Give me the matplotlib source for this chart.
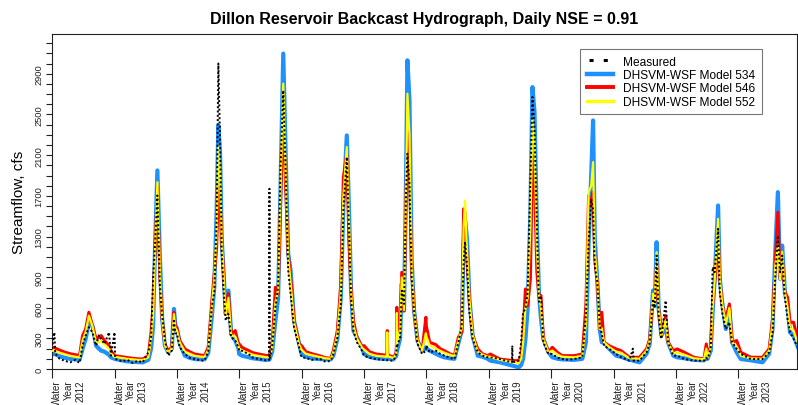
import matplotlib
matplotlib.use("Agg")
import matplotlib.pyplot as plt
import matplotlib.transforms as mtransforms
import pandas as pd

plt.rcParams['font.family'] = ['Liberation Sans', 'DejaVu Sans']

# ---------------- data ----------------
dates = [
    # WY2012
    "2011-10-01", "2011-10-15", "2011-10-20", "2011-11-15", "2011-12-15", "2012-01-15",
    "2012-02-15", "2012-03-10", "2012-03-28", "2012-04-15", "2012-05-04", "2012-05-25",
    "2012-06-15", "2012-07-01", "2012-07-15", "2012-08-03", "2012-08-30", "2012-09-10",
    # WY2013
    "2012-10-01", "2012-10-05", "2012-11-15", "2012-12-15", "2013-01-15", "2013-02-15",
    "2013-03-15", "2013-04-17", "2013-05-03", "2013-05-15", "2013-05-27", "2013-06-09",
    "2013-06-24", "2013-07-07", "2013-07-23", "2013-08-12", "2013-09-01", "2013-09-14",
    "2013-09-22",
    # WY2014
    "2013-10-01", "2013-10-18", "2013-11-17", "2013-12-15", "2014-01-13", "2014-02-15",
    "2014-03-12", "2014-04-03", "2014-04-23", "2014-05-08", "2014-05-22", "2014-06-01",
    "2014-06-11", "2014-06-21", "2014-07-01", "2014-07-14", "2014-07-30", "2014-08-15",
    "2014-09-08", "2014-09-27",
    # WY2015
    "2014-10-01", "2014-10-17", "2014-11-25", "2014-12-20", "2015-01-23", "2015-02-20",
    "2015-03-13", "2015-03-26", "2015-03-27", "2015-03-28", "2015-04-12", "2015-05-01",
    "2015-05-17", "2015-05-31", "2015-06-16", "2015-06-30", "2015-07-15", "2015-07-29",
    "2015-08-18", "2015-09-17",
    # WY2016
    "2015-10-01", "2015-10-26", "2015-12-01", "2016-01-15", "2016-02-20", "2016-03-20",
    "2016-04-04", "2016-04-28", "2016-05-18", "2016-06-02", "2016-06-22", "2016-07-05",
    "2016-07-17", "2016-07-31", "2016-08-20", "2016-09-19",
    # WY2017
    "2016-10-01", "2016-11-01", "2016-12-10", "2017-01-15", "2017-02-11", "2017-02-14",
    "2017-02-17", "2017-03-22", "2017-04-08", "2017-04-11", "2017-04-14", "2017-04-30",
    "2017-05-10", "2017-05-23", "2017-06-04", "2017-06-12", "2017-06-24", "2017-07-07",
    "2017-07-21", "2017-08-10", "2017-09-06", "2017-09-28",
    # WY2018
    "2017-10-01", "2017-10-20", "2017-11-25", "2017-12-20", "2018-01-14", "2018-02-15",
    "2018-03-14", "2018-04-06", "2018-04-26", "2018-05-07", "2018-05-15", "2018-05-27",
    "2018-06-10", "2018-06-29", "2018-07-29", "2018-08-26", "2018-09-25",
    # WY2019
    "2018-10-10", "2018-12-05", "2019-01-10", "2019-02-14", "2019-02-16", "2019-02-18",
    "2019-03-26", "2019-04-09", "2019-04-20", "2019-05-04", "2019-05-17", "2019-06-02",
    "2019-06-14", "2019-06-26", "2019-07-10", "2019-07-22", "2019-08-03", "2019-08-17",
    "2019-09-16",
    # WY2020
    "2019-10-08", "2019-11-10", "2019-12-05", "2020-01-10", "2020-02-14", "2020-04-01",
    "2020-04-22", "2020-05-08", "2020-05-23", "2020-06-03", "2020-06-13", "2020-06-28",
    "2020-07-12", "2020-07-24", "2020-08-06", "2020-09-05",
    # WY2021
    "2020-10-16", "2020-11-14", "2021-01-02", "2021-01-22", "2021-01-26", "2021-03-02",
    "2021-04-12", "2021-05-01", "2021-05-20", "2021-05-30", "2021-06-10", "2021-06-22",
    "2021-07-08", "2021-08-02", "2021-08-16", "2021-09-16",
    # WY2022
    "2021-10-08", "2021-11-20", "2022-01-14", "2022-03-14", "2022-03-28", "2022-04-04",
    "2022-04-23", "2022-05-04", "2022-05-16", "2022-06-05", "2022-06-15", "2022-06-29",
    "2022-07-20", "2022-08-10", "2022-08-26", "2022-09-22",
    # WY2023
    "2022-10-16", "2022-12-14", "2023-02-20", "2023-03-31", "2023-04-20", "2023-05-05",
    "2023-05-21", "2023-06-03", "2023-06-15", "2023-07-01", "2023-07-17", "2023-07-31",
    "2023-08-21", "2023-09-30",
]

measured = [
    200, 360, 150, 100, 80, 65, 90, 60, 230, 328, 410, 360, 229, 330, 295, 245, 360, 131,
    360, 100, 75, 90, 60, 80, 65, 164, 295, 885, 1245, 1704, 819, 524, 279, 131, 180, 491, 350,
    350, 213, 147, 110, 98, 85, 82, 180, 606, 750, 1459, 3000, 2245, 1131, 803, 475, 541, 311, 279, 213,
    180, 180, 147, 110, 98, 90, 82, 90, 1770, 100, 213, 606, 803, 1983, 2737, 1950, 967, 737, 410, 213,
    115, 110, 90, 100, 70, 82, 147, 311, 639, 1557, 2081, 1360, 705, 377, 262, 180,
    131, 110, 98, 90, 85, 90, 85, 82, 150, 246, 230, 311, 770, 639, 1720, 2114, 1818, 901, 573, 246, 147, 180,
    229, 164, 180, 150, 131, 110, 98, 262, 426, 1049, 1250, 1016, 557, 295, 164, 131, 115,
    115, 98, 80, 66, 229, 66, 82, 262, 557, 590, 754, 1868, 2671, 2360, 1409, 660, 720, 262, 147,
    147, 110, 98, 90, 98, 115, 524, 1245, 1671, 1573, 1016, 852, 426, 350, 229, 197,
    147, 115, 82, 200, 82, 82, 164, 262, 688, 600, 1114, 524, 295, 672, 262, 131,
    131, 98, 82, 82, 110, 100, 197, 1000, 950, 1376, 754, 557, 393, 459, 262, 197,
    147, 98, 98, 164, 360, 885, 1311, 950, 1114, 700, 491, 360, 295, 164,
]

model_534 = [
    150, 147, 145, 125, 110, 100, 95, 90, 200, 295, 459, 426, 229, 200, 180, 170, 140, 115,
    100, 98, 85, 75, 70, 68, 65, 90, 200, 426, 1245, 1950, 1082, 491, 229, 164, 197, 590, 430,
    400, 250, 131, 110, 98, 95, 95, 160, 500, 800, 1557, 2393, 2114, 1262, 967, 541, 770, 344, 279, 200,
    147, 131, 115, 105, 98, 92, 90, 92, 95, 98, 170, 475, 700, 1786, 3097, 2114, 1131, 967, 475, 246,
    147, 120, 105, 98, 95, 95, 130, 300, 700, 1600, 2294, 1557, 770, 377, 311, 213,
    147, 120, 105, 100, 98, 150, 100, 95, 130, 200, 190, 300, 836, 573, 1884, 3032, 2638, 1065, 573, 279, 180, 213,
    200, 180, 150, 130, 115, 105, 100, 250, 380, 1212, 1475, 1278, 688, 328, 131, 120, 100,
    82, 66, 50, 33, 33, 33, 16, 40, 98, 295, 600, 1540, 2769, 2523, 1409, 754, 492, 295, 164,
    115, 100, 95, 92, 90, 100, 262, 1245, 1900, 2441, 1278, 852, 393, 262, 262, 200,
    131, 120, 90, 85, 80, 66, 150, 250, 770, 620, 1245, 590, 328, 426, 262, 131,
    115, 105, 90, 85, 100, 100, 180, 557, 885, 1606, 885, 655, 393, 590, 262, 164,
    98, 85, 66, 150, 400, 1114, 1737, 885, 1212, 754, 623, 360, 328, 150,
]

model_546 = [
    213, 210, 205, 185, 165, 150, 140, 131, 328, 393, 557, 426, 295, 310, 328, 279, 230, 180,
    131, 130, 120, 112, 105, 100, 98, 131, 360, 623, 1200, 1780, 900, 491, 240, 180, 210, 557, 420,
    400, 279, 197, 170, 147, 138, 131, 213, 650, 934, 1196, 1786, 1688, 1262, 967, 541, 740, 344, 377, 246,
    246, 213, 180, 160, 147, 138, 131, 135, 138, 140, 246, 803, 737, 1622, 2540, 1786, 1131, 900, 475, 246,
    230, 170, 150, 130, 110, 105, 180, 377, 836, 1884, 2114, 1229, 770, 475, 311, 213,
    230, 170, 147, 140, 135, 377, 140, 115, 160, 606, 300, 442, 950, 573, 1700, 2540, 2000, 967, 573, 279, 180, 508,
    420, 262, 240, 200, 180, 150, 131, 311, 360, 1573, 1540, 1081, 688, 328, 197, 147, 131,
    147, 98, 90, 82, 82, 82, 82, 131, 360, 786, 623, 885, 2100, 1868, 950, 721, 721, 295, 164,
    213, 160, 131, 131, 131, 147, 623, 1704, 1600, 1737, 1081, 852, 393, 557, 262, 229,
    197, 180, 115, 115, 115, 115, 197, 295, 721, 655, 1049, 590, 328, 524, 262, 180,
    197, 164, 115, 98, 246, 120, 229, 623, 850, 1343, 885, 623, 491, 639, 262, 279,
    164, 115, 115, 197, 491, 1016, 1540, 900, 1100, 754, 705, 459, 459, 180,
]

model_552 = [
    180, 178, 175, 160, 145, 130, 120, 115, 280, 360, 524, 420, 260, 260, 280, 240, 200, 150,
    120, 118, 108, 100, 95, 90, 88, 115, 300, 520, 1200, 1835, 950, 480, 230, 165, 200, 540, 400,
    380, 260, 170, 150, 130, 122, 118, 190, 600, 880, 1350, 2180, 1900, 1262, 950, 530, 700, 330, 320, 225,
    200, 180, 155, 140, 128, 120, 115, 118, 120, 122, 210, 650, 780, 1750, 2802, 1900, 1100, 850, 460, 240,
    190, 150, 135, 118, 105, 100, 160, 340, 760, 1700, 2180, 1450, 760, 420, 300, 210,
    190, 150, 130, 125, 120, 360, 125, 108, 150, 550, 260, 380, 900, 580, 1800, 2704, 2300, 1000, 573, 279, 180, 350,
    320, 230, 200, 180, 160, 140, 125, 280, 400, 1400, 1655, 1150, 688, 328, 170, 140, 120,
    120, 90, 80, 70, 70, 70, 60, 100, 250, 600, 700, 1400, 2458, 2200, 1200, 730, 600, 295, 164,
    180, 140, 120, 118, 115, 130, 450, 1737, 1800, 2032, 1150, 852, 393, 400, 262, 215,
    170, 160, 105, 105, 105, 100, 180, 280, 740, 640, 1147, 590, 328, 480, 262, 150,
    160, 140, 105, 95, 200, 110, 210, 600, 870, 1475, 885, 640, 440, 600, 262, 220,
    130, 105, 100, 180, 450, 1000, 1212, 880, 1150, 754, 600, 400, 380, 165,
]

water_years = list(range(2012, 2024))
y_tick_values = list(range(0, 3201, 100))
y_tick_labelled = [0, 300, 600, 900, 1300, 1700, 2100, 2500, 2900]

# ---------------- figure ----------------
W, H = 798, 406
fig = plt.figure(figsize=(W / 100, H / 100), dpi=100)
L, R, T, B = 52, 797, 35, 370
ax = fig.add_axes([L / W, (H - B) / H, (R - L) / W, (B - T) / H])

t = pd.to_datetime(dates)
ax.plot(t, model_534, color='#1E90FF', lw=3.0, solid_joinstyle='round', zorder=2,
        label='DHSVM-WSF Model 534')
ax.plot(t, model_546, color='#FF0000', lw=2.2, solid_joinstyle='round', zorder=3,
        label='DHSVM-WSF Model 546')
ax.plot(t, model_552, color='#FFFF00', lw=1.6, solid_joinstyle='round', zorder=4,
        label='DHSVM-WSF Model 552')
ax.plot(t, measured, color='black', lw=1.4, ls=(0, (1.0, 1.2)), zorder=5,
        label='Measured')

ax.set_xlim(pd.Timestamp('2011-10-01'), pd.Timestamp('2023-09-10'))
ax.set_ylim(0, 3290)

# y axis
ax.set_yticks(y_tick_values)
ax.set_yticklabels([str(v) if v in y_tick_labelled else '' for v in y_tick_values],
                   rotation=90, va='center', fontsize=6.7, color='#222222')
ax.tick_params(axis='y', direction='out', length=4.3, width=0.8, pad=2, colors='#222222',
               labelcolor='#222222')
ax.set_ylabel('Streamflow, cfs', fontsize=11, labelpad=6)

# x axis: ticks at start of each water year
xt = [pd.Timestamp(f'{wy - 1}-10-01') for wy in water_years]
ax.set_xticks(xt)
ax.set_xticklabels([f'Water\nYear\n{wy}' for wy in water_years], rotation=90,
                   ha='left', va='top', multialignment='right', fontsize=7,
                   linespacing=1.22)
offset = mtransforms.ScaledTranslation(-8.0 / 100, 0, fig.dpi_scale_trans)
for lab in ax.get_xticklabels():
    lab.set_transform(lab.get_transform() + offset)
ax.tick_params(axis='x', direction='out', length=6.5, width=0.8, pad=1, colors='#222222')

for s in ax.spines.values():
    s.set_linewidth(0.8)
    s.set_color('#222222')

ax.set_title('Dillon Reservoir Backcast Hydrograph, Daily NSE = 0.91', fontsize=11.5,
             fontweight='bold', pad=8)

# legend
handles, labels = ax.get_legend_handles_labels()
order = [3, 0, 1, 2]
leg = ax.legend([handles[i] for i in order], [labels[i] for i in order],
                loc='upper left', bbox_to_anchor=((580 - L) / (R - L), (B - 50) / (B - T)),
                borderaxespad=0, fontsize=8.6, frameon=True, fancybox=False,
                edgecolor='#777777', framealpha=1, labelspacing=0.12, handlelength=2.2,
                handletextpad=0.85, borderpad=0.55)
leg.get_frame().set_linewidth(0.8)
for line in leg.get_lines():
    if line.get_label() == 'Measured':
        line.set_linewidth(2.2)
        line.set_linestyle((4.0, (1.33, 3.33)))
    elif 'Model 534' in line.get_label():
        line.set_linewidth(3.2)
    elif 'Model 546' in line.get_label():
        line.set_linewidth(2.8)
    else:
        line.set_linewidth(2.4)

fig.savefig('out.png', dpi=100)
